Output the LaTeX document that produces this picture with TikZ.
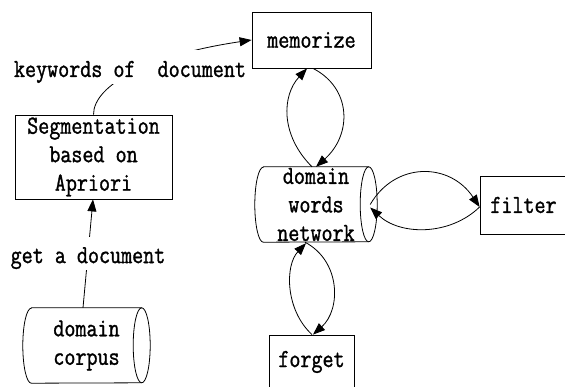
\documentclass[tikz,border=0pt]{standalone}
\usepackage{fontspec}
\newfontfamily\dgfont{Latin Modern Mono}[FakeBold=1.2,FakeStretch=0.825]
\usetikzlibrary{arrows.meta,calc}

% outline of a horizontal storage cylinder drawn around a plain node
\newcommand\storeoutline[3]{% name, end x-radius, half height
  \draw[edge] ($(#1.north west)+(#2,0)$) -- ($(#1.north east)+(-#2,0)$)
    arc[start angle=90,end angle=-90,x radius=#2pt,y radius=#3pt]
    -- ($(#1.south west)+(#2,0)$)
    arc[start angle=270,end angle=90,x radius=#2pt,y radius=#3pt] -- cycle;
  \draw[edge] ($(#1.north east)+(-#2,0)$)
    arc[start angle=90,end angle=270,x radius=#2pt,y radius=#3pt];
}

\begin{document}
\begin{tikzpicture}[x=1pt,y=-1pt,
  txt/.style={font=\dgfont\fontsize{26}{28.5}\selectfont},
  edge/.style={line width=0.8pt},
  box/.style={txt,edge,draw,rectangle,align=center,inner sep=0pt},
  store/.style={txt,rectangle,align=center,inner sep=0pt},
  link/.style={edge,-{Triangle[length=12pt,width=9pt]}},
  lbl/.style={txt,fill=white,inner sep=0pt,text depth=7pt}]
\path[use as bounding box,fill=white] (0,0) rectangle (565,387);

% process boxes
\node[box,minimum width=119pt,minimum height=56pt] (mem) at (311.5,40) {memorize};
\node[box,minimum width=157pt,minimum height=84pt] (seg) at (93.5,157)
  {Segmentation\\based on\\Apriori};
\node[box,minimum width=87pt,minimum height=58pt] (filt) at (523.5,205) {filter};
\node[box,minimum width=85pt,minimum height=54pt] (forg) at (311.5,362) {forget};

% data stores
\node[store,minimum width=122pt,minimum height=75pt] (dwn) at (316,204.5)
  {domain\\words\\network};
\storeoutline{dwn}{8.5}{37.5}
\node[store,minimum width=127pt,minimum height=75pt] (corp) at (86.5,345.5)
  {domain\\corpus};
\storeoutline{corp}{8.5}{37.5}

% corpus feeds segmentation
\draw[link] ($(corp.north)+(-3.5,0)$) -- ($(seg.south)+(-0.5,0)$)
  node[lbl,text height=26pt,midway] (gad) {get a document};

% segmentation result goes to memorize
\draw[link] (seg.north) .. controls +(0,-30) and +(-102,15) .. (mem.west)
  node[lbl,text height=27pt] (kw) at (130,67) {keywords of~~document};

% memorize <-> domain words network
\draw[link] ($(dwn.north)+(-4,0)$) .. controls +(-32,-32) and +(-25,27) .. ($(mem.south)+(-4.5,0)$);
\draw[link] ($(mem.south)+(1.5,0)$) .. controls +(39,20) and +(36,-32) .. (dwn.north);

% domain words network <-> filter
\draw[link] ($(dwn.east)+(-7,0)$) .. controls +(25,-43) and +(-30,-45) .. ($(filt.west)+(0,2)$);
\draw[link] ($(filt.west)+(0,2)$) .. controls +(-30,29) and +(30,28) .. ($(dwn.east)+(-7,3)$);

% domain words network <-> forget
\draw[link] ($(forg.north)+(0.5,0)$) .. controls +(-27,-25) and +(-21,22) .. ($(dwn.south)+(-10,1)$);
\draw[link] ($(dwn.south)+(-11,0)$) .. controls +(36,19) and +(28,-25) .. ($(forg.north)+(1.5,0)$);
\end{tikzpicture}
\end{document}
